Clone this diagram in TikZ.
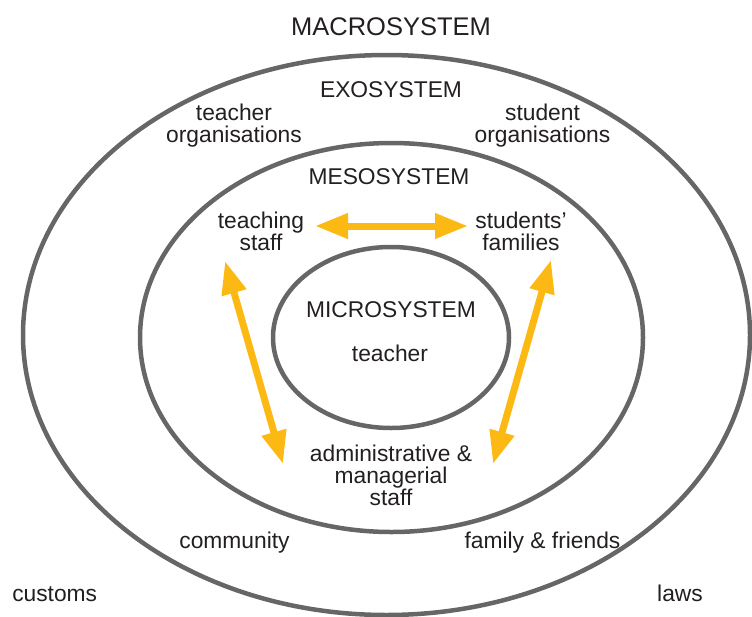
\documentclass[tikz,border=0pt]{standalone}
\usepackage{fontspec}
\setmainfont{Liberation Sans}
\usetikzlibrary{arrows.meta}
\definecolor{ringgray}{HTML}{666666}
\definecolor{arrowyellow}{HTML}{FDB913}
\definecolor{txt}{HTML}{231F20}
\begin{document}
\begin{tikzpicture}[x=1pt,y=-1pt,
  ring/.style={draw=ringgray,line width=4.5pt},
  lbl/.style={inner sep=0pt,anchor=base,text=txt,font=\fontsize{22.8}{21.8}\selectfont,align=center},
  biarrow/.style={draw=arrowyellow,line width=7pt,{Triangle[length=33pt,width=24pt]}-{Triangle[length=33pt,width=24pt]}}]
\useasboundingbox (0,0) rectangle (752,616);
\clip (0,0) rectangle (752,616);
% rings
\draw[ring] (386.5,335) ellipse [x radius=363.5pt,y radius=280pt];
\draw[ring] (391.5,337.5) ellipse [x radius=251.5pt,y radius=194.5pt];
\draw[ring] (391,337.5) ellipse [x radius=118pt,y radius=90.5pt];
% labels (multi-line nodes: base = baseline of last line)
\node[lbl,font=\fontsize{25.5}{26}\selectfont] (macro) at (391,35) {MACROSYSTEM};
\node[lbl] (exo) at (391,97) {EXOSYSTEM};
\node[lbl] (meso) at (389,184.5) {MESOSYSTEM};
\node[lbl] (micro) at (391,317.5) {MICROSYSTEM};
\node[lbl] (teacher) at (390,361) {teacher};
\node[lbl] (torg) at (234,142.7) {teacher\\organisations};
\node[lbl] (sorg) at (542.5,142.7) {student\\organisations};
\node[lbl] (tstaff) at (261,250.7) {teaching\\staff};
\node[lbl] (sfam) at (521,250.7) {students’\\families};
\node[lbl] (admin) at (391,505) {administrative \&\\managerial\\staff};
\node[lbl] (comm) at (234.5,548.3) {community};
\node[lbl] (famfr) at (542.5,548.3) {family \& friends};
\node[lbl] (cust) at (54.7,601.7) {customs};
\node[lbl] (laws) at (680,601.7) {laws};
% arrows
\coordinate (tsR) at (315,226);
\coordinate (sfL) at (468,226);
\coordinate (tsB) at (225,261);
\coordinate (amL) at (283,464);
\coordinate (sfB) at (551,260);
\coordinate (amR) at (493,464);
\draw[biarrow] (tsR) -- (sfL);
\draw[biarrow] (tsB) -- (amL);
\draw[biarrow] (sfB) -- (amR);
\end{tikzpicture}
\end{document}
